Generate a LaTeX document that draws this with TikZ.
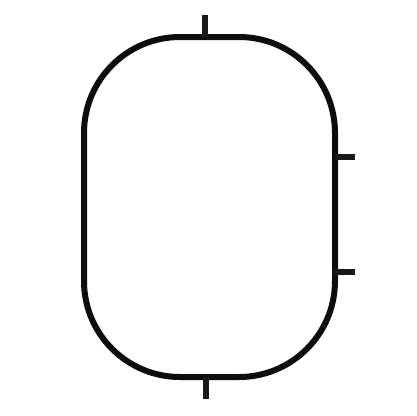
\documentclass[tikz,border=0pt]{standalone}
\begin{document}
\begin{tikzpicture}[x=1pt,y=-1pt,
  outline/.style={line width=6pt, draw=black!95, rounded corners=96pt},
  tick/.style={line width=5.5pt, draw=black!90}]
\useasboundingbox (0,0) rectangle (416,416);
\fill[white] (0,0) rectangle (416,416);
\draw[outline] (84,37) rectangle (335,377);
\coordinate (t1) at (205,37); \coordinate (t2) at (205,15);
\coordinate (b1) at (206,377); \coordinate (b2) at (206,399);
\coordinate (r1) at (335,157); \coordinate (r2) at (355,157);
\coordinate (r3) at (335,272); \coordinate (r4) at (355,272);
\draw[tick] (t1) -- (t2);
\draw[tick] (b1) -- (b2);
\draw[tick] (r1) -- (r2);
\draw[tick] (r3) -- (r4);
\end{tikzpicture}
\end{document}
